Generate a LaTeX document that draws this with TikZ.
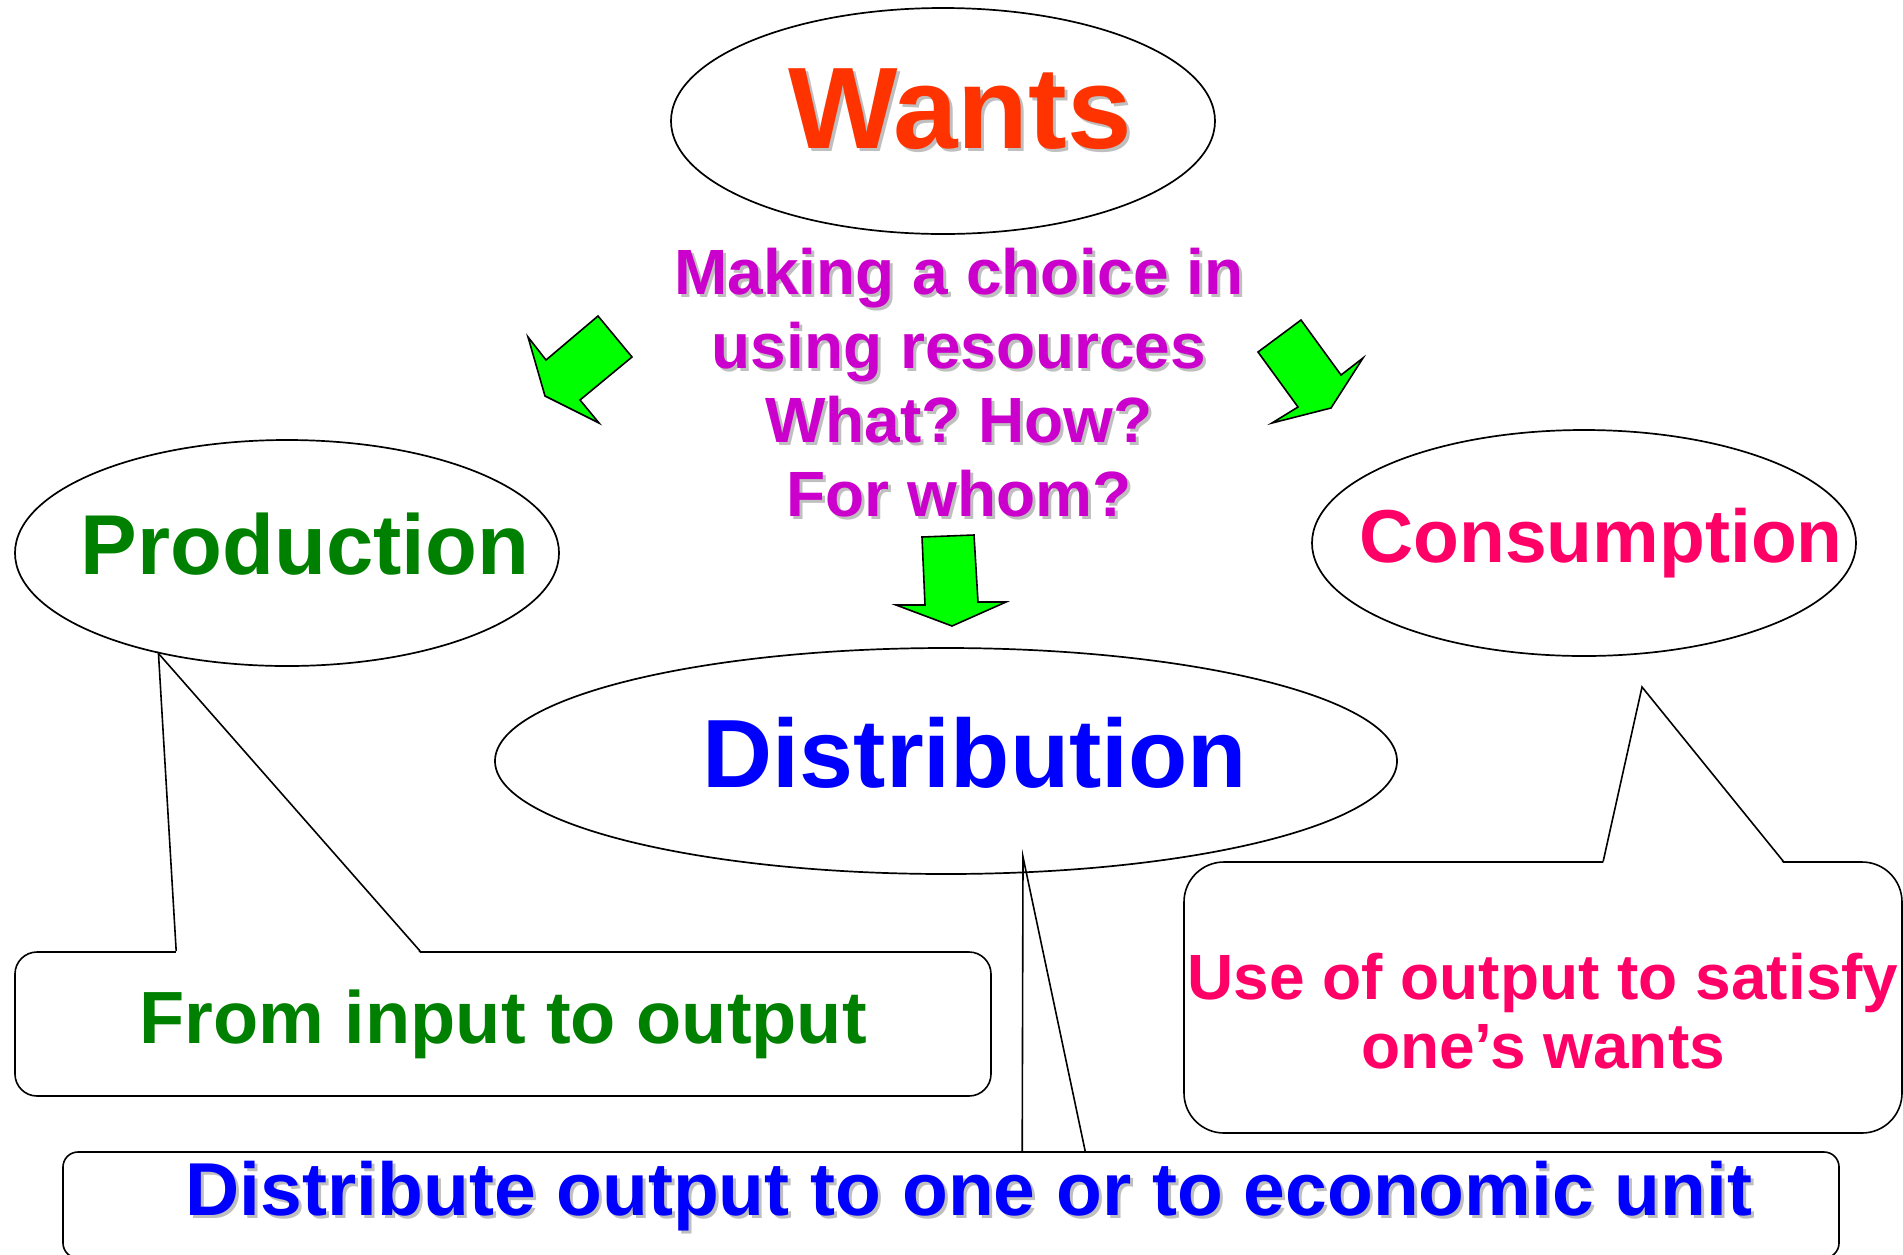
\documentclass[tikz,border=0pt]{standalone}
\usepackage{fontspec}
\setmainfont{Liberation Sans}
\usetikzlibrary{positioning,shapes.geometric}
\definecolor{wantsred}{HTML}{FF3300}
\definecolor{choicepurple}{HTML}{CC00CC}
\definecolor{prodgreen}{HTML}{008000}
\definecolor{conspink}{HTML}{FF0066}
\definecolor{distblue}{HTML}{0000FF}
\definecolor{arrowgreen}{HTML}{00FF00}
\frenchspacing
\newcommand{\setsize}[1]{\fontsize{#1}{#1}\selectfont\bfseries}
\newcommand{\shadowed}[1]{\rlap{\kern3pt\raisebox{-3pt}{\textcolor{black!25}{#1}}}#1}

\begin{document}
\begin{tikzpicture}[
    x=1pt, y=-1pt,
    bubble/.style={ellipse, draw, line width=1.7pt, minimum width=544pt, minimum height=226pt, inner sep=0pt},
    word/.style={inner sep=0pt},
    choice/.style={text=choicepurple, align=center, inner sep=0pt, font=\fontsize{64}{74}\selectfont\bfseries},
    note/.style={rectangle, draw, line width=1.6pt, inner sep=0pt},
    pointer/.style={draw, line width=1.6pt, line join=miter},
    greenarrow/.style={draw, line width=1.6pt, fill=arrowgreen, line join=miter}
    ]
\useasboundingbox (0,0) rectangle (1903,1254);

% the four ellipses
\node[bubble, label={[word, text=wantsred, font=\setsize{116}, xshift=17pt, yshift=10pt]center:\shadowed{Wants}}] (wants) at (943,121) {};
\node[bubble, label={[word, text=prodgreen, font=\setsize{85}, xshift=18pt, yshift=9pt]center:Production}] (prod) at (287,553) {};
\node[bubble, label={[word, text=conspink, font=\setsize{75}, xshift=17pt]center:Consumption}] (cons) at (1584,543) {};
\node[bubble, minimum width=902pt, label={[word, text=distblue, font=\setsize{97}, xshift=29pt, yshift=8pt]center:Distribution}] (dist) at (946,761) {};

\node[choice, below=13pt of wants, xshift=16pt] (choice) {\shadowed{Making a choice in}\\ \shadowed{using resources}\\ \shadowed{What? How?}\\ \shadowed{For whom?}};

% callouts
\node[note, minimum width=976pt, minimum height=144pt, rounded corners=22pt, text=prodgreen, font=\setsize{74}] (prodnote) at (503,1024) {From input to output};
\node[note, minimum width=718pt, minimum height=271pt, rounded corners=40pt, text=conspink, align=center, font=\fontsize{64}{68.5}\selectfont\bfseries] (consnote) at (1543,997.5) {\rule{0pt}{74pt}Use of output to satisfy\\one’s wants};
\node[note, minimum width=1776pt, minimum height=106pt, rounded corners=15pt, text=distblue, font=\setsize{75}] (distnote) at (951,1205) {\hspace*{36pt}\rule[-34pt]{0pt}{89pt}\shadowed{Distribute output to one or to economic unit}};

\coordinate (prodtip) at (prod.218);
\coordinate (constip) at (1642,687);
\coordinate (disttip) at (1023,857);
\coordinate (pb1) at ([xshift=162pt]prodnote.north west);
\coordinate (pb2) at ([xshift=406pt]prodnote.north west);
\coordinate (cb1) at ([xshift=420pt]consnote.north west);
\coordinate (cb2) at ([xshift=600pt]consnote.north west);
\coordinate (db1) at ([xshift=960pt]distnote.north west);
\coordinate (db2) at ([xshift=1023pt]distnote.north west);

\fill[white] ([yshift=-2pt]pb1) -- (prodtip) -- ([yshift=-2pt]pb2) -- cycle;
\draw[pointer] (pb1) -- (prodtip) -- (pb2);
\fill[white] ([yshift=-2pt]cb1) -- (constip) -- ([yshift=-2pt]cb2) -- cycle;
\draw[pointer] (cb1) -- (constip) -- (cb2);
\draw[pointer] (db1) -- (disttip) -- (db2);

% green arrows
\draw[greenarrow] (598,316) -- (632,357) -- (580,400) -- (599,423) -- (545,396) -- (528,337) -- (546,360) -- cycle;
\draw[greenarrow] (1301,320) -- (1258,352) -- (1298,407) -- (1272,423) -- (1331,408) -- (1363,358) -- (1341,375) -- cycle;
\draw[greenarrow] (922,537) -- (974,535) -- (978,602) -- (1006,602) -- (952,626) -- (896,605) -- (925,605) -- cycle;
\end{tikzpicture}
\end{document}
